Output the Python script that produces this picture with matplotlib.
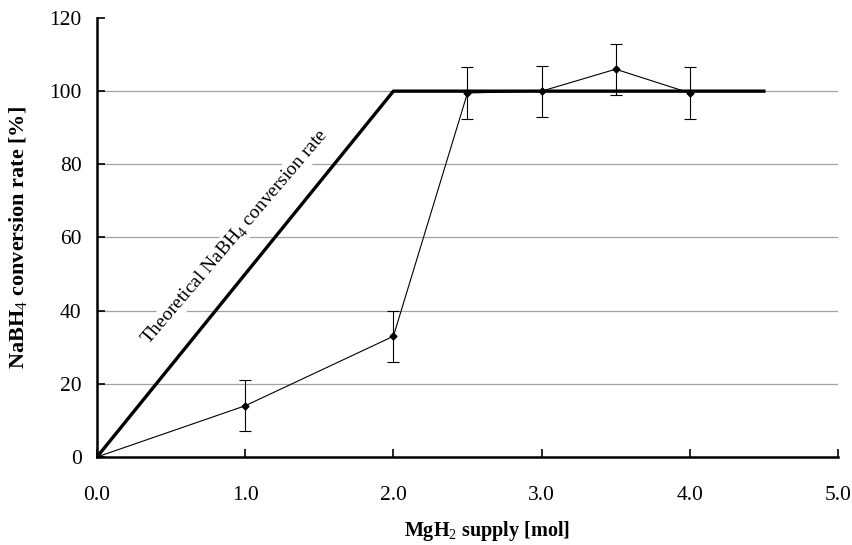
import numpy as np
import matplotlib.pyplot as plt
from matplotlib.ticker import FormatStrFormatter

plt.rcParams['font.family'] = 'Liberation Serif'
plt.rcParams['mathtext.fontset'] = 'custom'
plt.rcParams['mathtext.rm'] = 'Liberation Serif'
plt.rcParams['mathtext.bf'] = 'Liberation Serif:bold'

# measured conversion
mgh2 = [0.0, 1.0, 2.0, 2.5, 3.0, 3.5, 4.0]
conv = [0.0, 14.0, 33.0, 99.5, 100.0, 106.0, 99.5]
err = [0.0, 7.0, 7.0, 7.0, 7.0, 7.0, 7.0]

# theoretical line
theo_x = [0.0, 2.0, 4.5]
theo_y = [0.0, 100.0, 100.0]

fig = plt.figure(figsize=(8.53, 5.45), dpi=100)
ax = fig.add_axes([0.1137, 0.1615, 0.8687, 0.8055])

ax.set_xlim(0, 5)
ax.set_ylim(0, 120)
ax.set_xticks(np.arange(0, 5.1, 1.0))
ax.set_yticks(np.arange(0, 121, 20))
ax.xaxis.set_major_formatter(FormatStrFormatter('%.1f'))

for y in [20, 40, 60, 80, 100]:
    ax.axhline(y, color='#a0a0a0', lw=0.9, zorder=0)

ax.plot(theo_x, theo_y, color='black', lw=2.4, zorder=2)
ax.errorbar(mgh2, conv, yerr=err, color='black', lw=0.8, marker='D', ms=3.5,
            elinewidth=0.8, capsize=4, capthick=0.8, zorder=3)

ax.text(0.93, 60.0, 'Theoretical NaBH$_4$ conversion rate', rotation=49.5,
        ha='center', va='center', fontsize=14, zorder=1,
        bbox=dict(facecolor='white', edgecolor='none', pad=1))

for s in ['top', 'right']:
    ax.spines[s].set_visible(False)
for s in ['left', 'bottom']:
    ax.spines[s].set_linewidth(1.8)

ax.tick_params(axis='both', direction='in', length=6, width=1.2, labelsize=15.5)
ax.tick_params(axis='x', pad=21)
ax.tick_params(axis='y', pad=11)
ax.set_xlabel('MgH$_2$ supply [mol]', fontsize=14.5, fontweight='bold', labelpad=10)
ax.xaxis.label.set_x(0.526)
ax.set_ylabel('NaBH$_4$ conversion rate [%]', fontsize=16, fontweight='bold', labelpad=14)

fig.savefig('out.png', dpi=100)
